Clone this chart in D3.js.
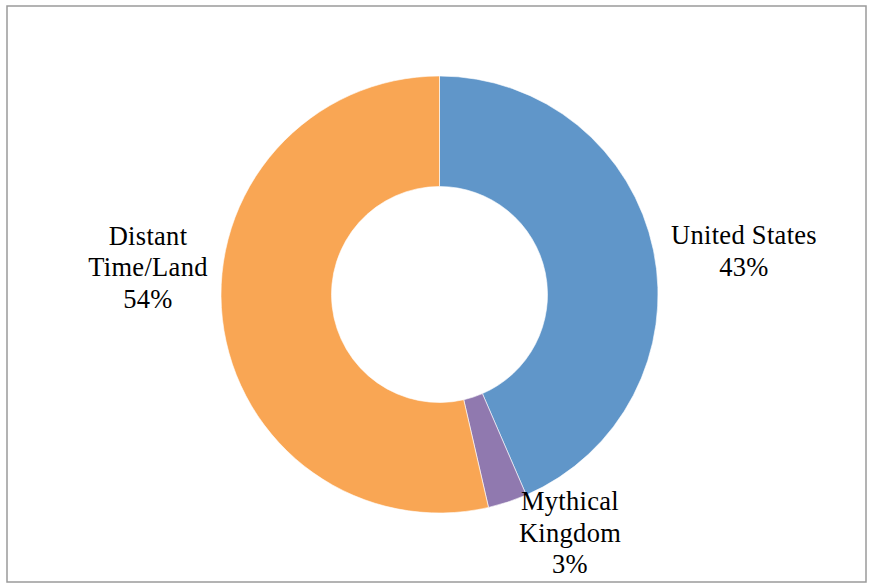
<!DOCTYPE html>
<html>
<head>
<meta charset="utf-8">
<script src="https://cdn.jsdelivr.net/npm/d3@7"></script>
<style>
  body { margin: 0; background: #fff; }
  text { font-family: "Liberation Serif", "DejaVu Serif", serif; fill: #000; }
</style>
</head>
<body>
<div id="chart"></div>
<script>
// Data
var categories = ["United States", "Mythical Kingdom", "Distant Time/Land"];
var values = [43.5, 2.9, 53.6];
var labels = [["United States", "43%"], ["Mythical", "Kingdom", "3%"], ["Distant", "Time/Land", "54%"]];
var colors = ["#6096C9", "#9079AF", "#F9A654"];

var width = 870, height = 584;
var cx = 439.5, cy = 294.5;
var outerR = 218.5, innerR = 108;

var svg = d3.select("#chart")
    .append("svg")
    .attr("width", width)
    .attr("height", height);

// frame around the chart area
svg.append("rect")
    .attr("x", 7)
    .attr("y", 6)
    .attr("width", 859)
    .attr("height", 576)
    .attr("fill", "none")
    .attr("stroke", "#9a9a9a")
    .attr("stroke-width", 1.5);

var pie = d3.pie().sort(null).value(d => d);
var arc = d3.arc().innerRadius(innerR).outerRadius(outerR);

var g = svg.append("g")
    .attr("transform", "translate(" + cx + "," + cy + ")");

g.selectAll("path")
    .data(pie(values))
    .enter()
    .append("path")
    .attr("d", arc)
    .attr("fill", (d, i) => colors[i])
    .attr("stroke", "#fff")
    .attr("stroke-width", 0.6);

// label anchors (first baseline), placed outside the ring
var labelPos = [[744, 244], [570, 510], [148, 244.5]];
var lineH = 31.5;

labels.forEach((lines, i) => {
    var t = svg.append("text")
        .attr("text-anchor", "middle")
        .style("font-size", "26.5px")
        .style("letter-spacing", "0.3px");
    lines.forEach((s, j) => {
        t.append("tspan")
            .attr("x", labelPos[i][0])
            .attr("y", labelPos[i][1] + j * lineH)
            .text(s);
    });
});
</script>
</body>
</html>
